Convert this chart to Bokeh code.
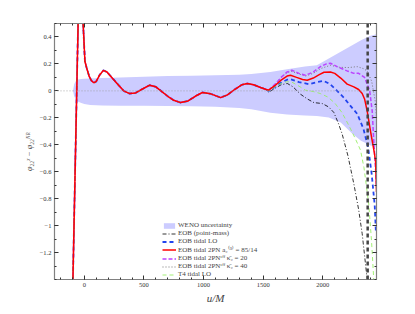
from bokeh.plotting import figure
from bokeh.models import Range1d, FixedTicker, LinearAxis, Span, Legend, LegendItem, CustomJSTickFormatter
from bokeh.embed import file_html
from bokeh.resources import INLINE

# ---------------- data ----------------
u_common = [-100, -52, -35, -10, 5, 20, 40, 60, 80, 100, 130, 160, 190, 230, 280, 330, 380,
            430, 480, 548, 600, 650, 700, 750, 808, 870, 930, 990, 1060, 1143, 1200, 1260,
            1320, 1367, 1420, 1478, 1520]
phi_common = [-1.6, 0.5, 0.75, 0.5, 0.22, 0.17, 0.11, 0.075, 0.06, 0.07, 0.12, 0.152, 0.14,
              0.1, 0.05, 0.0, -0.02, -0.015, 0.01, 0.042, 0.03, -0.005, -0.04, -0.07, -0.087,
              -0.075, -0.04, -0.012, -0.022, -0.05, -0.03, 0.01, 0.045, 0.054, 0.045, 0.025,
              0.012]

u_pm = [1546, 1600, 1650, 1702, 1750, 1813, 1870, 1925, 1995, 2050, 2092, 2130, 2162, 2210,
        2260, 2300, 2330, 2372, 2380]
phi_pm = [-0.01, 0.02, 0.045, 0.055, 0.03, -0.025, -0.06, -0.087, -0.094, -0.12, -0.16, -0.24,
          -0.32, -0.48, -0.69, -0.88, -1.06, -1.4, -1.5]

u_lo = [1546, 1600, 1650, 1700, 1729, 1800, 1883, 1950, 2008, 2060, 2120, 2176, 2230, 2288,
        2340, 2380, 2410, 2435, 2445]
phi_lo = [0.0, 0.03, 0.06, 0.083, 0.087, 0.065, 0.05, 0.065, 0.074, 0.05, 0.0, -0.05, -0.11,
          -0.17, -0.28, -0.42, -0.62, -0.85, -1.05]

u_2pn = [1546, 1600, 1650, 1700, 1729, 1780, 1830, 1869, 1920, 1970, 2010, 2064, 2100, 2150,
         2204, 2260, 2300, 2330, 2350, 2372, 2400, 2430, 2442, 2450]
phi_2pn = [0.005, 0.04, 0.08, 0.11, 0.116, 0.1, 0.085, 0.079, 0.095, 0.12, 0.138, 0.14, 0.13,
           0.095, 0.05, 0.03, 0.01, -0.02, -0.06, -0.15, -0.3, -0.45, -0.52, -0.75]

u_k20 = [1546, 1600, 1650, 1700, 1740, 1800, 1855, 1920, 1980, 2030, 2064, 2120, 2204, 2260,
         2300, 2350, 2393, 2414, 2427, 2440, 2450]
phi_k20 = [0.005, 0.05, 0.1, 0.14, 0.153, 0.13, 0.116, 0.14, 0.18, 0.2, 0.205, 0.18, 0.148,
           0.13, 0.13, 0.1, 0.0, -0.15, -0.37, -0.55, -0.7]

u_k40 = [1546, 1600, 1650, 1700, 1740, 1800, 1855, 1920, 1980, 2064, 2140, 2218, 2288, 2340,
         2372, 2410, 2440, 2450]
phi_k40 = [0.005, 0.05, 0.1, 0.135, 0.145, 0.125, 0.11, 0.13, 0.165, 0.19, 0.175, 0.173, 0.18,
           0.165, 0.148, 0.07, -0.08, -0.2]

u_t4 = [1546, 1600, 1650, 1700, 1740, 1800, 1855, 1920, 1980, 2040, 2100, 2160, 2220, 2270,
        2316, 2345, 2363, 2385, 2408, 2427, 2432]
phi_t4 = [0.0, 0.03, 0.055, 0.068, 0.065, 0.035, 0.005, -0.005, -0.02, -0.045, -0.09, -0.16,
          -0.26, -0.35, -0.44, -0.57, -0.69, -0.84, -1.11, -1.4, -1.5]

band_u = [-95, -85, -70, -50, -25, 0, 50, 150, 300, 500, 700, 900, 1100, 1300, 1400, 1560,
          1700, 1850, 1950, 2050, 2150, 2250, 2320, 2400, 2450]
band_upper = [0.0, 0.05, 0.075, 0.085, 0.088, 0.09, 0.092, 0.095, 0.1, 0.105, 0.11, 0.112,
              0.115, 0.12, 0.125, 0.14, 0.16, 0.18, 0.19, 0.24, 0.29, 0.34, 0.375, 0.41, 0.42]
band_lower = [0.0, -0.04, -0.065, -0.08, -0.09, -0.098, -0.105, -0.108, -0.11, -0.111, -0.112,
              -0.115, -0.118, -0.128, -0.136, -0.163, -0.175, -0.182, -0.186, -0.198, -0.235,
              -0.32, -0.37, -0.405, -0.415]

merger_u = 2376

x_ticks = [0, 500, 1000, 1500, 2000]
x_tick_labels = ["0", "500", "1000", "1500", "2000"]
y_ticks = [-1.2, -1.0, -0.8, -0.6, -0.4, -0.2, 0.0, 0.2, 0.4]
y_tick_labels = ["\u22121.2", "\u22121", "\u22120.8", "\u22120.6", "\u22120.4", "\u22120.2", "0", "0.2", "0.4"]

labels = ["WENO uncertainty", "EOB (point-mass)", "EOB tidal LO",
          "EOB tidal 2PN a\u2082\u207d\u00b3\u207e = 85/14",
          "EOB tidal 2PN\u1d49\u1da0\u1da0 \u03ba\u0304\u2082 = 20",
          "EOB tidal 2PN\u1d49\u1da0\u1da0 \u03ba\u0304\u2082 = 40",
          "T4 tidal LO"]

# ---------------- figure ----------------
FONT = "Liberation Serif"
p = figure(width=415, height=314, output_backend="svg", toolbar_location=None,
           x_range=Range1d(-250, 2450), y_range=Range1d(-1.4, 0.5),
           min_border_left=54, min_border_right=39, min_border_top=23, min_border_bottom=35,
           x_axis_location=None, y_axis_location=None)
p.grid.visible = False
p.outline_line_color = None
p.background_fill_color = "white"
p.border_fill_color = "white"

x_minor = list(range(-200, 2450, 100))
y_minor = [round(-1.4 + 0.1 * i, 1) for i in range(20)]

def style(ax, show_labels):
    ax.axis_line_color = "#808080"
    ax.axis_line_width = 1.2
    ax.major_tick_line_color = "#333333"
    ax.minor_tick_line_color = "#333333"
    ax.major_tick_in = 4
    ax.major_tick_out = 0
    ax.minor_tick_in = 2
    ax.minor_tick_out = 0
    ax.major_label_text_font = FONT
    ax.major_label_text_font_size = "6.5px"
    ax.major_label_text_color = "#333333"
    ax.major_label_standoff = 3
    if not show_labels:
        ax.formatter = CustomJSTickFormatter(code="return ''")

xb = LinearAxis(ticker=FixedTicker(ticks=x_ticks, minor_ticks=x_minor))
xb.major_label_overrides = dict(zip(x_ticks, x_tick_labels))
style(xb, True)
xb.axis_label = "u/M"
xb.axis_label_text_font = FONT
xb.axis_label_text_font_style = "italic"
xb.axis_label_text_font_size = "11px"
xb.axis_label_standoff = 2
p.add_layout(xb, "below")

xt = LinearAxis(ticker=FixedTicker(ticks=x_ticks, minor_ticks=x_minor))
style(xt, False)
xt.major_label_text_font_size = "0px"
p.add_layout(xt, "above")

yl = LinearAxis(ticker=FixedTicker(ticks=y_ticks, minor_ticks=y_minor))
yl.major_label_overrides = dict(zip(y_ticks, y_tick_labels))
style(yl, True)
yl.axis_label = "\u03c6\u2082\u2082\u02e3 \u2212 \u03c6\u2082\u2082\u1d3a\u1d3f"
yl.axis_label_text_font = FONT
yl.axis_label_text_font_style = "italic"
yl.axis_label_text_font_size = "8px"
yl.axis_label_standoff = 3
p.add_layout(yl, "left")

yr = LinearAxis(ticker=FixedTicker(ticks=y_ticks, minor_ticks=y_minor))
style(yr, False)
yr.major_label_text_font_size = "0px"
p.add_layout(yr, "right")

band = p.varea(x=band_u, y1=band_lower, y2=band_upper, fill_color="#ccccff", fill_alpha=1.0)

p.add_layout(Span(location=0, dimension="width", line_color="#999999", line_width=0.8,
                  line_dash="1 2"))

r_pm = p.line(u_common + u_pm, phi_common + phi_pm, line_color="black", line_width=0.8,
              line_dash="4 2 1 2")
r_lo = p.line(u_common + u_lo, phi_common + phi_lo, line_color="#2244ee", line_width=1.8,
              line_dash="4 3")
r_k40 = p.line(u_common + u_k40, phi_common + phi_k40, line_color="#777777", line_width=1.0,
               line_dash="1 2")
r_k20 = p.line(u_common + u_k20, phi_common + phi_k20, line_color="#bb44ff", line_width=1.5,
               line_dash="4 2")
r_t4 = p.line(u_common + u_t4, phi_common + phi_t4, line_color="#99ee66", line_width=0.9,
              line_dash="4 3")
r_2pn = p.line(u_common + u_2pn, phi_common + phi_2pn, line_color="#ff0000", line_width=1.5)

p.add_layout(Span(location=merger_u, dimension="height", line_color="#444444", line_width=2.5,
                  line_dash="4 3"))

legend = Legend(items=[LegendItem(label=labels[0], renderers=[band]),
                       LegendItem(label=labels[1], renderers=[r_pm]),
                       LegendItem(label=labels[2], renderers=[r_lo]),
                       LegendItem(label=labels[3], renderers=[r_2pn]),
                       LegendItem(label=labels[4], renderers=[r_k20]),
                       LegendItem(label=labels[5], renderers=[r_k40]),
                       LegendItem(label=labels[6], renderers=[r_t4])],
                location=(108, 1))
legend.background_fill_alpha = 0
legend.border_line_color = None
legend.label_text_font = FONT
legend.label_text_font_size = "7px"
legend.label_text_line_height = 1.0
legend.label_height = 7
legend.glyph_height = 7
legend.glyph_width = 14
legend.label_standoff = 2
legend.spacing = 0
legend.padding = 0
legend.margin = 0
p.add_layout(legend, "center")

open("out.html", "w").write(file_html(p, INLINE))
